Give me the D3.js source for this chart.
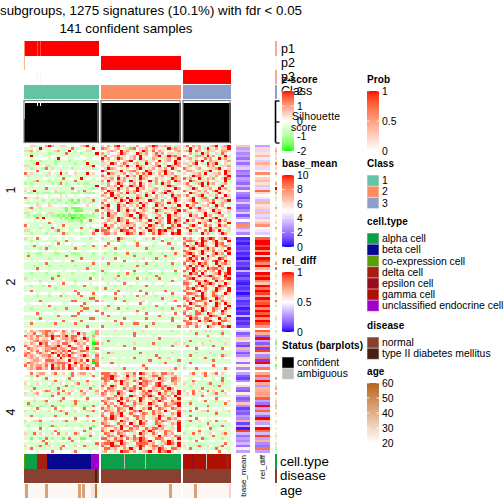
<!DOCTYPE html>
<html><head><meta charset="utf-8">
<script src="https://cdn.jsdelivr.net/npm/d3@7"></script>
<style>html,body{margin:0;padding:0;background:#fff}svg{display:block}text{font-family:"Liberation Sans",Arial,sans-serif;fill:#000}</style>
</head><body><svg id="c" width="504" height="504"></svg>
<script>
// ---------- data ----------
const titleLines = ["subgroups, 1275 signatures (10.1%) with fdr < 0.05", "141 confident samples"];
const clusterLabels = ["1", "2", "3", "4"];
// z-score levels as digits: 0 = -2 ... 4 = 0 ... 8 = +2 (three sample groups per row)
const heat1 = [
"4455334686335534344568334 5463785543364456875565325 5746563335684568",
"3334383334433333733343383 7654564326745563654338565 3385364585364558",
"5564534433563348434435544 4456548563345863746543456 5684754365543665",
"3323333323333373333233338 6354458654386564575645535 4463538563453754",
"3383343334433343333433333 5745563545648354568458675 7543665385645385",
"4434444434384443344443344 8564586345648543653356458 3563543756438563",
"3323323333223332333323333 6453354568435563548356485 3453758436553456",
"3332833333233333323338333 5538645754563385465354386 5536845385683453",
"5533434553344334333433584 5364456385486543568438656 4563534375643556",
"3323332732333333233333323 4586543354368535645364854 7534563435568345",
"4444734434445434434443444 8643358456754386435685436 3665435568345386",
"7353343354338354453338354 5486535645363758546385643 5435563843556485",
"3233333233323332333333333 7545364385648563435645375 4358665345364358",
"4334334434334734433834434 3556485643538654363543865 7563485365634586",
"3332733323332333373333333 6485365648536438564536386 3486535564353483",
"2323333332327323332322333 5364586345648545363856435 5743568385643563",
"4434433444434333444433438 4365648538658645343358654 3563438563345843",
"3333333733333333733333323 7645385364385643563354386 4358643556438563",
"5458333334533333345373344 5486564365685435654368543 7534563643685345",
"3223232223222233222322223 3758456385645363845685643 3486535564358543",
"4444344434445434434444444 6548563543365385463543856 5743568345364385",
"7333533433333333333335333 4363856485386543563354685 4358436754385643",
"3343332332322332131323373 5643538648563548653645385 3568435563743568",
"3233233323233323212333233 7453365486538564376538564 5436753456843653",
"4434534453443443344445434 5684385645363854385643538 3856435564385643",
"3273323333333213111233333 8564385364538653645385663 4385685435564358",
"3333333333333313311133337 3565485385643654386543568 7534365543856345",
"5534334355335335433443453 6485643564386543563365485 3563345843568435",
"3232223232212121112122223 5386543568438654356438565 4385643856435643",
"3333738333331313011213333 7456386543758564385648536 5435568345683453",
"4443434434343332232143734 4365386574356438536548386 3856435568438563",
"3333333373333333333233333 5643645386543564386548575 7534385643356438",
"7433343333433743333334344 3856435565643538653643758 4368543756438563",
"3333323337333333333733233 6485365648536485643538653 5743563438563345",
"5534334334573343344333458 7764538775643538658785648 4385643758648535",
"3323333233333723333233373 5775643587538643758654878 3563438563345863"
];
const heat2 = [
"5334734433344343344333534 5334386533344353733433543 7563458568745685",
"3323333333233373333333333 3332373333233333333733333 5776548754683548",
"4434344443474344344443344 4474443344374444334447434 7453868543586745",
"3337333323333333333323373 3733333233373333233333333 6856478654385675",
"3333323733333333373333333 3333733333333373333333733 5478543685643548",
"4444444344344443444434444 4443444434444443344444344 7653358563745386",
"3233223333223333222333323 3233233373233332333233373 5786458543685648",
"3733333333333373333333333 3333333333733333333373333 7548654385643563",
"3333333323333333333733333 5333743333333543373333334 4685748563438754",
"4434344443444344734444434 4443444744434444344434444 5768543654786485",
"3333333733333333333333373 3373333333333373333333733 7456386754385675",
"3332333323332333323333233 3323332333373233323333233 5684758563548543",
"3333733333333333333337333 3333333333333333333333333 4758645386775648",
"4444344434444344443444443 7344443444744434444344474 7548563745648538",
"3323333233323333233333323 3233323373233332333233323 5386748543568478",
"3333333333373333333333333 3333373333333333373333333 7654385678645385",
"5334333337333433333333743 5333533333374353337333343 4678543543765478",
"3333323333333333323333333 3333323333333333333333733 6543765864385643",
"4444434444434744434444344 4434444744434444344434444 7754385678645385",
"3323332373333333233373333 3333233332333373333233333 5643758643548764",
"3333333333233333333333332 3733333333333333333333333 3768543754386548",
"3373333333333333373333333 3333373333337333333373333 7543785643685438",
"4444344434444344447444474 4444744443444474344444744 4776548543754385",
"3333233323337323333733323 3233333233373233323333233 6543768543775643",
"3333333333333333333333773 3333733333333333333733333 7658438754386543",
"3333373333333333773333337 5333343733333543333343573 3754776548563753",
"4344443444444344444473444 4443444434447443444434444 5486543754386485",
"3333333373333333333733333 3373333333333333373333337 7643775643585438",
"3323333333233373333377333 3233373323333233333233733 4775438543765485",
"3333333333333333333733337 3333333333373333333333333 6543758643754863",
"4444734444344444447444444 7444443444434474444344474 7453775486543754",
"3333333333373333773333333 3373333333333333337333333 3775643538765438",
"3333373333333333333333773 3333333733333373333333733 5486754775438563",
"4434444344444734443744444 4434744444344444434444744 7654385678543775",
"3373333333733333373333333 3333337333773333733333333 4775643543768543",
"3333333333333333333337333 7333333333333373333333337 5643754386543768"
];
const heat3 = [
"5465566775654754653344336 3333533333333533333333533 3453333535333533",
"3557436756445653548563326 3333333333733333333333333 3333733333333733",
"7563765768675685775464363 4444344444744444344444444 4444344474444344",
"4565645548545665764586324 3333333333333333337333333 3333333333333333",
"3456756654565465685546315 3373333333333333333333333 3373333335333333",
"5365486745564775456564307 5333343333533333733333353 5333345333333353",
"7545665765686458545646353 3333333733333333333333733 3733333333733333",
"4765545667756654775548317 4444444444744444443444444 4444744444444744",
"5465745764565768545776334 3333333333333333333333333 3333333333333333",
"6754675548757564765545325 3375333333337333333333533 3333533335333333",
"7565456675485768545686347 3333333333333333373333333 3373333333333753",
"4565645565548545665554336 5334433434733433447335433 4343343734334344",
"3456654777565548565748376 3333333333333337333333337 3333333333733333",
"5765545656677765486564307 3337333333333333333373333 3373333333333333",
"7465665748565748564756547 4444434444444744444444443 3444444444744444",
"4565775648675758745768574 3333333733333373333333373 5333733333333373"
];
const heat4 = [
"4474566345734543745663543 7775643565748753653775643 4457345743574534",
"3323733333333333733333373 5778654385643545775643563 3333333733333333",
"4434443744344437444344444 7768543563538653548653775 4434443444344734",
"3333333333733333233337333 3764758653754776535654765 3337333333333733",
"5433543345335433457335433 5643538563458675478543563 5335333357333533",
"3323333323333273233333323 7538643564753764578675453 3323333333237333",
"3337333333373333333333733 5476543756758543653758643 3333337333333333",
"4454345764354743543745436 3756576458643758565476538 5437454374543743",
"5335643335473356433564335 7645386543545676438563658 3547335433573354",
"3333333337333333333233333 6543756438654758643756485 3333337333333333",
"4443444434443744434447444 4576538563458645375764538 4443444434474444",
"3335335743357333575335433 7654386475638543658643756 3353343743353345",
"3733333233333333373333333 3756458643756538654375678 3373333333333373",
"3223322337232233223322373 5473754775643356475376548 3333333373333333",
"4434734434744344344374344 7565476538543658437654765 4434744434444344",
"5335433354357543354335573 4765375645768543756485437 5374335573354335",
"3333333333333373333333333 6437568437545763756543658 3333333333373333",
"3373333333733333333337333 7548658543775643538653548 3373333333333333",
"4444434444444444474444444 3758643564375643568437564 4444744434444444",
"5435574335433573354335473 5643538653548564375765437 3573354335473354",
"3333323333333333333333333 7654375648538754376543658 3333333373333333",
"3233323327233323333233313 4776538564775643538653548 3233323333233733",
"4344474344434444344434744 6543658437564375775643538 4344434447344434",
"3333333333733333333373333 7538565776543758645376548 3333373333333333",
"5337354335473354375433543 3765476543538653754375643 5337354335433573",
"3333333333333333333333733 5476538653745643538565476 3333333333733333",
"3313323732333137333113333 7753756475768754377643538 3323337233333233",
"4434437434344443744344434 4575678543658768543658645 4434744344434443",
"3333333733333333333333337 6778538653477775643568758 3333333333333373",
"5433573354335743354375433 7548775643568745775643538 5433573354335743",
"3373333333337333333333333 3775643658538543658754775 3373333333373333",
"4444344447443444374444344 5643538775643568538678543 4444344434447443"
];
// per-row annotation values in each of the four row groups
const baseMean1 = [6.5,3,3.5,2.5,3,2,3.5,2,3.5,4,2,2.5,1.5,3,2.5,1.8,3.5,2,5.5,2.5,2,1.2,2.5,4,2,1.5,2.5,4,1.5,3,5,2.5,8,3,4,2.5];
const baseMean2 = [0.5,1,0.3,1.2,0.8,1.5,0.5,1,0.2,1.8,0.8,1.2,0.4,3.5,1,0.5,1.5,0.7,0.3,1.1,0.6,1.4,0.2,1,2,0.6,0.9,1.4,0.3,1,0.5,3.5,0.4,1.2,0.6,1.5];
const baseMean3 = [4,1.5,2.5,6.5,6,2,1,7,3,1.5,2.5,6,4.5,2,5.5,2.5];
const baseMean4 = [3,1.5,1,2.5,5,6,2,1.5,5.5,3,1.5,2,6.5,2.5,1,2,1.5,3,2.5,7,1,3,0.3,9.5,3.5,2,3,2.5,3.5,2,5.5,3];
const relDiff1 = [0.3,0.6,0.42,0.58,0.68,0.45,0.4,0.7,0.6,0.42,0.48,0.8,0.52,0.62,0.68,0.58,0.38,0.42,0.88,0.6,0.5,0.45,0.36,0.7,0.58,0.62,0.38,0.68,0.42,0.38,0.58,0.66,0.78,0.5,0.45,0.4];
const relDiff2 = [0.9,1,1,0.92,1,0.75,1,0.6,1,0.95,0.8,1,0.7,0.55,1,0.9,1,0.8,0.65,1,0.85,1,0.95,0.7,1,0.85,0.92,1,0.8,1,0.9,1,0.78,1,0.92,0.75];
const relDiff3 = [0.9,0.7,0.2,1,0.3,0.15,0.8,0.1,0.95,0.6,0.25,0.85,0.1,1,0.4,0.85];
const relDiff4 = [0.72,0.9,0.3,1,0.72,0.28,0.7,0.72,0.75,0.72,0.9,0.3,0.2,1,0.3,0.9,0.35,0.2,1,0.72,0.3,0.45,1,0.85,0.35,0.95,0.3,0.7,0.25,0.2,0.85,0.3];
const sideCol1 = "456535373546343648563534363454354634";
const sideCol2 = "534353634364743534543463473543435343";
const sideCol3 = "5343513534363415";
const sideCol4 = "44643564643551545345343435345323";
// sample annotations as [value, number of samples] runs, per group
const p1Runs = [[[0.6,1],[1,8],[0.85,1],[1,1],[0.85,1],[1,40]], [[0,56]], [[0,33]]];
const p2Runs = [[[0.4,1],[0,51]], [[1,56]], [[0,33]]];
const p3Runs = [[[0,9],[0.07,1],[0,1],[0.07,1],[0,40]], [[0,56]], [[1,33]]];
const classRuns = [[[0,52]], [[1,56]], [[2,33]]];
const silRuns = [[[0.55,1],[0.95,8],[0.88,1],[0.95,1],[0.88,1],[0.95,40]], [[0.95,56]], [[0.95,33]]];
const cellRuns = [
 [["co-expression cell",1],["alpha cell",8],["delta cell",7],["beta cell",31],["unclassified endocrine cell",5]],
 [["alpha cell",16],[null,1],["alpha cell",14],[null,1],["alpha cell",24]],
 [["gamma cell",6],["epsilon cell",1],["gamma cell",9],[null,1],["gamma cell",13],["delta cell",2],["gamma cell",1]]];
const diseaseRuns = [[["normal",50],["type II diabetes mellitus",1],["normal",1]], [["normal",56]], [["normal",33]]];
const ageRuns = [
 [[22,1],[44,2],[22,12],[44,2],[22,21],[44,2],[22,1],[44,2],[22,4],[27,3],[55,1],[22,1]],
 [[22,48],[44,2],[22,6]],
 [[22,8],[44,2],[22,22],[30,1]]];
const classNames = ["1", "2", "3"];
const classColors = ["#66c2a5", "#fc8d62", "#8da0cb"];
const cellNames = ["alpha cell","beta cell","co-expression cell","delta cell","epsilon cell","gamma cell","unclassified endocrine cell"];
const cellColors = ["#0d9e48","#07078f","#5aa005","#a52010","#960c1e","#ad1000","#a000cc"];
const diseaseNames = ["normal","type II diabetes mellitus"];
const diseaseColors = ["#8a4030","#4a2015"];
const statusNames = ["confident","ambiguous"];
const statusColors = ["#000000","#bebebe"];
const zTicks = [-2,-1,0,1,2], probTicks = [0,0.5,1], baseTicks = [0,2,4,6,8,10], relTicks = [0,0.5,1], ageTicks = [20,30,40,50,60];
const annotSwatch = {p1:"#ffa78a", p2:"#fff4ee", p3:"#ffa78a", Class:"#8da0cb", cell:"#0d9e48", disease:"#8a4030", age:"#fdf8f4"};

// ---------- layout ----------
const colX = [[24,98],[101,180],[183,230]];
const rowY = [[145,234],[237,327],[330,369],[372,452]];
const W = {base:[236,250], rel:[255,270], side:[275,277]};
const svg = d3.select("#c");
const zCol = d3.scaleLinear().domain([-2,0,2]).range(["#00ff00","#ffffff","#ff0000"]).interpolate(d3.interpolateLab).clamp(true);
const probCol = d3.scaleLinear().domain([0,1]).range(["#ffffff","#ff0000"]).interpolate(d3.interpolateLab);
const baseCol = d3.scaleLinear().domain([0,5,10]).range(["#0000ff","#ffffff","#ff0000"]).interpolate(d3.interpolateLab).clamp(true);
const relCol = d3.scaleLinear().domain([0,0.5,1]).range(["#0000ff","#ffffff","#ff0000"]).interpolate(d3.interpolateLab);
const ageCol = d3.scaleLinear().domain([20,60]).range(["#ffffff","#b4651b"]).interpolate(d3.interpolateLab);
const cellCol = d3.scaleOrdinal(cellNames, cellColors).unknown("#bebebe");
const disCol = d3.scaleOrdinal(diseaseNames, diseaseColors);
const expand = runs => runs.flatMap(([v,n]) => d3.range(n).map(() => v));

// heatmap
const heats = [heat1, heat2, heat3, heat4];
const gHeat = svg.append("g").attr("shape-rendering","crispEdges");
heats.forEach((rows, ri) => {
  const y = d3.scaleBand().domain(d3.range(rows.length)).range(rowY[ri]);
  rows.forEach((row, i) => {
    row.split(" ").forEach((seg, gi) => {
      const x = d3.scaleBand().domain(d3.range(seg.length)).range(colX[gi]);
      gHeat.selectAll(null).data(seg.split("").map(Number)).join("rect")
        .attr("x",(d,k)=>x(k)).attr("y",y(i)).attr("width",x.bandwidth()+0.5).attr("height",y.bandwidth()+0.5)
        .attr("fill",d=>zCol((d-4)/2));
    });
  });
});
// per-row side bars
function sideBar(arrs, range, col) {
  arrs.forEach((a, ri) => {
    const vals = Array.from(a);
    const y = d3.scaleBand().domain(d3.range(vals.length)).range(rowY[ri]);
    gHeat.selectAll(null).data(vals).join("rect").attr("x",range[0]).attr("width",range[1]-range[0])
      .attr("y",(d,i)=>y(i)).attr("height",y.bandwidth()+0.5).attr("fill",col);
  });
}
sideBar([baseMean1,baseMean2,baseMean3,baseMean4], W.base, baseCol);
sideBar([relDiff1,relDiff2,relDiff3,relDiff4], W.rel, relCol);
sideBar([sideCol1,sideCol2,sideCol3,sideCol4], W.side, d=>zCol((+d-4)/2));

// sample annotation tracks
function track(runs, y0, y1, color) {
  runs.forEach((r, gi) => {
    const vals = expand(r);
    const x = d3.scaleBand().domain(d3.range(vals.length)).range(colX[gi]);
    gHeat.selectAll(null).data(vals).join("rect").attr("x",(d,i)=>x(i)).attr("width",x.bandwidth()+0.5)
      .attr("y",y0).attr("height",y1-y0).attr("fill",color);
  });
}
track(p1Runs,41,56,probCol);
track(p2Runs,56,70,probCol);
track(p3Runs,70,84,probCol);
track(classRuns,85,99,d=>classColors[d]);
track(cellRuns,454,469,cellCol);
track(diseaseRuns,469,483,disCol);
track(ageRuns,484,498,ageCol);
// silhouette bars
const silY = d3.scaleLinear().domain([0,1]).range([142.5,100.5]);
silRuns.forEach((r, gi) => {
  const vals = expand(r);
  const x = d3.scaleBand().domain(d3.range(vals.length)).range(colX[gi]);
  gHeat.selectAll(null).data(vals).join("rect").attr("x",(d,i)=>x(i)).attr("width",x.bandwidth()+0.5)
    .attr("y",d=>silY(d)).attr("height",d=>silY(0)-silY(d)).attr("fill","#000");
  svg.append("rect").attr("x",colX[gi][0]).attr("width",colX[gi][1]-colX[gi][0]).attr("y",silY(1)).attr("height",silY(0)-silY(1))
    .attr("fill","none").attr("stroke","#808080").attr("stroke-width",1.2);
});
const silAxis = svg.append("g").attr("transform","translate(275.5,0)")
  .call(d3.axisRight(silY).tickValues([0,0.5,1]).tickSize(4).tickFormat(""));
silAxis.selectAll("path,line").attr("stroke","#000").attr("stroke-width",1.3);
silAxis.select(".domain").attr("d","M0,100.5V142.5").attr("stroke-width",1.6);

// right-hand swatches for each annotation
const gs = svg.append("g").attr("shape-rendering","crispEdges");
[[41,56,"p1"],[56,70,"p2"],[70,84,"p3"],[85,99,"Class"],[454,469,"cell"],[469,483,"disease"],[484,498,"age"]].forEach(([a,b,k])=>{
  gs.append("rect").attr("x",W.side[0]).attr("width",W.side[1]-W.side[0]).attr("y",a).attr("height",b-a).attr("fill",annotSwatch[k]);
});

// text helper
const T = (x,y,s,size,opt={}) => svg.append("text").attr("x",x).attr("y",y).attr("font-size",size)
  .attr("font-weight",opt.bold?"bold":"normal").attr("text-anchor",opt.anchor||"start")
  .attr("transform",opt.rot?`rotate(${opt.rot},${x},${y})`:null).attr("letter-spacing",opt.ls||null).text(s);

T(0,14.5,titleLines[0],13.3);
T(126,32.5,titleLines[1],13.3,{anchor:"middle"});
[["p1",53],["p2",67],["p3",81],["Class",95]].forEach(([s,y])=>T(281,y,s,12.5));
[["cell.type",466],["disease",480],["age",495]].forEach(([s,y])=>T(280,y,s,13.3));
[[190,0],[282,1],[349,2],[412,3]].forEach(([y,i])=>T(15,y,clusterLabels[i],12.5,{rot:-90,anchor:"middle"}));
T(246,455,"base_mean",8,{rot:-90,anchor:"end"});
T(265,455,"rel_diff",8,{rot:-90,anchor:"end"});

// legends
const lgSize = 10.4, lgBold = 10;
function gradLegend(x, y0, y1, title, scale, ticks, id) {
  T(x,y0-8.5,title,lgBold,{bold:true,ls:0.1});
  const [dmin,dmax] = [d3.min(ticks),d3.max(ticks)];
  const pos = d3.scaleLinear().domain([dmin,dmax]).range([y1,y0]);
  const g = svg.append("defs").append("linearGradient").attr("id",id).attr("x1",0).attr("x2",0).attr("y1",1).attr("y2",0);
  d3.range(0,1.001,0.05).forEach(t=>g.append("stop").attr("offset",t).attr("stop-color",scale(dmin+t*(dmax-dmin))));
  svg.append("rect").attr("x",x).attr("y",y0).attr("width",12).attr("height",y1-y0).attr("fill",`url(#${id})`);
  const ax = svg.append("g").attr("transform",`translate(${x+12},0)`)
    .call(d3.axisRight(pos).tickValues(ticks).tickSize(0).tickPadding(3).tickFormat(d=>String(d)));
  ax.select(".domain").remove();
  ax.selectAll("text").attr("font-size",lgSize).attr("font-family",'"Liberation Sans"').attr("fill","#000");
  ticks.forEach(t=>{ [[x,x+2.5],[x+9.5,x+12]].forEach(([a,b])=>svg.append("line").attr("x1",a).attr("x2",b).attr("y1",pos(t)).attr("y2",pos(t)).attr("stroke","#fff").attr("stroke-opacity",0.8)); });
}
function swatchLegend(x, y0, title, names, colors, titleGap=8.5, step=11.2) {
  T(x,y0-titleGap,title,lgBold,{bold:true,ls:0.1});
  names.forEach((n,i)=>{
    svg.append("rect").attr("x",x+0.5).attr("y",y0+i*step+0.5).attr("width",11).attr("height",step-1)
      .attr("fill",colors[i]).attr("stroke",colors[i]).attr("stroke-opacity",0.45);
    T(x+15,y0+i*step+step/2+3.5,n,lgSize);
  });
}
gradLegend(282,91,151,"z-score",zCol,zTicks,"gz");
gradLegend(367,91,151,"Prob",probCol,probTicks,"gp");
gradLegend(282,175,247,"base_mean",baseCol,baseTicks,"gb");
gradLegend(282,272,332,"rel_diff",relCol,relTicks,"gr");
gradLegend(367,383,443,"age",ageCol,ageTicks,"ga");
swatchLegend(367,175,"Class",classNames,classColors);
swatchLegend(367,233,"cell.type",cellNames,cellColors);
swatchLegend(367,337,"disease",diseaseNames,diseaseColors);
swatchLegend(282,357,"Status (barplots)",statusNames,statusColors);
T(292,119.5,"Silhouette",lgSize,{ls:0.2});
T(291,130.5,"score",lgSize);
</script></body></html>
